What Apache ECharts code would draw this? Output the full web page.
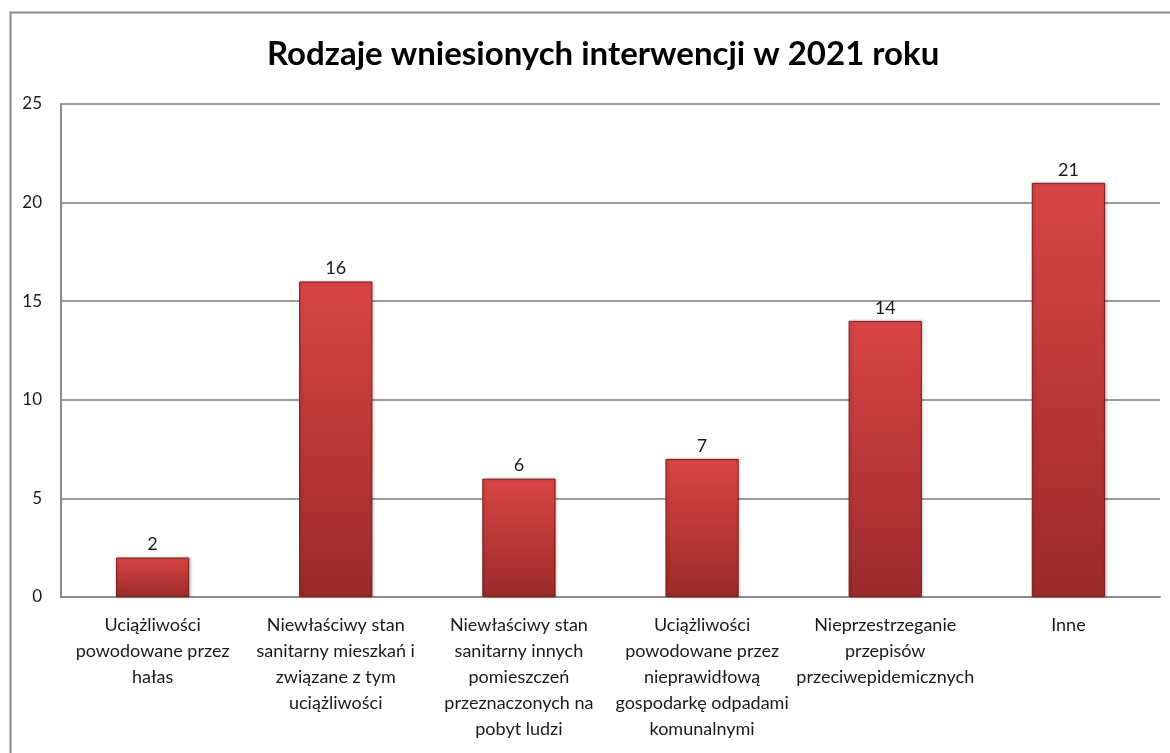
<!DOCTYPE html>
<html>
<head>
<meta charset="utf-8">
<script src="https://cdn.jsdelivr.net/npm/echarts@6/dist/echarts.min.js"></script>
<style>
  html, body { margin: 0; padding: 0; background: #fff; }
  #chart { width: 1170px; height: 753px; }
</style>
</head>
<body>
<div id="chart"></div>
<script>
// dane z wykresu
const categories = [
  "Uciążliwości\npowodowane przez\nhałas",
  "Niewłaściwy stan\nsanitarny mieszkań i\nzwiązane z tym\nuciążliwości",
  "Niewłaściwy stan\nsanitarny innych\npomieszczeń\nprzeznaczonych na\npobyt ludzi",
  "Uciążliwości\npowodowane przez\nnieprawidłową\ngospodarkę odpadami\nkomunalnymi",
  "Nieprzestrzeganie\nprzepisów\nprzeciwepidemicznych",
  "Inne"
];
const values = [2, 16, 6, 7, 14, 21];
const titleText = "Rodzaje wniesionych interwencji w 2021 roku";

const font = "Lato, 'Open Sans', sans-serif";
let myChart = echarts.init(document.getElementById("chart"));

let option = {
  animation: false,
  backgroundColor: "#fff",
  title: {
    text: titleText,
    left: 262,
    top: 33,
    textStyle: { fontFamily: font, fontSize: 33, fontWeight: "bold", color: "#000" }
  },
  graphic: [
    {
      type: "polyline",
      shape: { points: [[10.5, 760], [10.5, 12.5], [1180, 12.5]] },
      style: { stroke: "#8a8a8a", lineWidth: 2, fill: null },
      silent: true
    }
  ],
  grid: { left: 61, right: 10, top: 104, bottom: 156, containLabel: false },
  xAxis: {
    type: "category",
    data: categories,
    axisLine: { lineStyle: { color: "#8c8c8c", width: 2 } },
    axisTick: { show: false },
    axisLabel: {
      interval: 0,
      margin: 15,
      fontFamily: font,
      fontSize: 18,
      lineHeight: 26,
      color: "#1a1a1a",
      verticalAlign: "top"
    }
  },
  yAxis: {
    type: "value",
    min: 0,
    max: 25,
    interval: 5,
    axisLine: { show: true, lineStyle: { color: "#8c8c8c", width: 2 } },
    axisTick: { show: false },
    splitLine: { lineStyle: { color: "#9a9a9a", width: 2 } },
    axisLabel: { margin: 19, fontFamily: font, fontSize: 17, color: "#1a1a1a" }
  },
  series: [
    {
      type: "bar",
      data: values,
      barWidth: "40%",
      itemStyle: {
        color: new echarts.graphic.LinearGradient(0, 0, 0, 1, [
          { offset: 0, color: "#da4545" },
          { offset: 1, color: "#9c2a2a" }
        ]),
        borderColor: "#7a1e1e",
        borderWidth: 1,
        shadowColor: "rgba(0,0,0,0.25)",
        shadowBlur: 3,
        shadowOffsetX: 1
      },
      label: {
        show: true,
        position: "top",
        distance: 4,
        fontFamily: font,
        fontSize: 18,
        color: "#1a1a1a"
      }
    }
  ]
};

myChart.setOption(option);
</script>
</body>
</html>
